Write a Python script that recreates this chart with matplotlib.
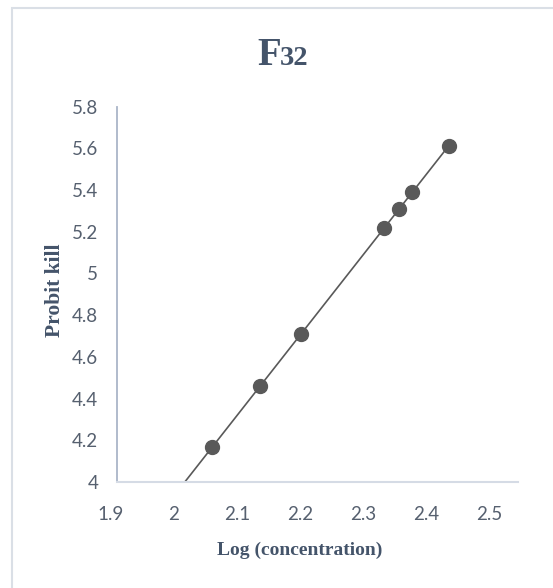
import numpy as np
import matplotlib
matplotlib.use("Agg")
import matplotlib.pyplot as plt
import matplotlib.transforms as mtransforms
from matplotlib.patches import Rectangle

# data
log_conc = [2.042, 2.114, 2.176, 2.300, 2.322, 2.341, 2.397]
probit_kill = [4.166, 4.460, 4.710, 5.220, 5.308, 5.391, 5.612]
x_ticks = [1.9, 2.0, 2.1, 2.2, 2.3, 2.4, 2.5]
x_tick_labels = ["1.9", "2", "2.1", "2.2", "2.3", "2.4", "2.5"]
y_ticks = [4.0, 4.2, 4.4, 4.6, 4.8, 5.0, 5.2, 5.4, 5.6, 5.8]
y_tick_labels = ["4", "4.2", "4.4", "4.6", "4.8", "5", "5.2", "5.4", "5.6", "5.8"]

W, H = 553, 588
fig = plt.figure(figsize=(W / 100, H / 100), dpi=100)
ax = fig.add_axes([117 / W, 1 - 482 / H, (518 - 117) / W, (482 - 106.7) / H])

# linear trend line, forecast back to x = 2.0
slope, icpt = np.polyfit(log_conc, probit_kill, 1)
xs = np.array([2.0, max(log_conc)])
ax.plot(xs, slope * xs + icpt, color="#595959", lw=1.2, zorder=2)
ax.plot(log_conc, probit_kill, "o", color="#595959", ms=10, zorder=3)

ax.set_xlim(1.9, 2.5)
ax.set_ylim(4.0, 5.8)
ax.set_xticks(x_ticks)
ax.set_xticklabels(x_tick_labels)
ax.set_yticks(y_ticks)
ax.set_yticklabels(y_tick_labels)

tick_col = "#56606f"
ax.tick_params(axis="both", length=0, labelsize=13.5, labelcolor=tick_col)
ax.tick_params(axis="x", pad=17)
ax.tick_params(axis="y", pad=13.5)
for lab in ax.get_xticklabels() + ax.get_yticklabels():
    lab.set_fontfamily("Lato")

# the labels in the picture sit a bit left of the real tick spots
for v, lab in zip(x_ticks, ax.get_xticklabels()):
    dx = -(6 + (v - 1.9) / 0.6 * 23) / 100
    lab.set_transform(lab.get_transform() + mtransforms.ScaledTranslation(dx, 0, fig.dpi_scale_trans))

for s in ["top", "right"]:
    ax.spines[s].set_visible(False)
ax.spines["left"].set_color("#aab5c8")
ax.spines["bottom"].set_color("#d5dbe5")
ax.spines["left"].set_linewidth(1.3)
ax.spines["bottom"].set_linewidth(1.5)

label_col = "#44546a"
serif = "Liberation Serif"
fig.text(281 / W, 1 - 65 / H, "F", ha="right", va="baseline", fontsize=28,
         fontweight="bold", family=serif, color=label_col)
fig.text(280 / W, 1 - 65 / H, "32", ha="left", va="baseline", fontsize=20.5,
         fontweight="bold", family=serif, color=label_col)
fig.text(300 / W, 1 - 550 / H, "Log (concentration)", ha="center", va="center",
         fontsize=14, fontweight="bold", family=serif, color=label_col)
fig.text(55 / W, 1 - 290 / H, "Probit kill", ha="center", va="center", rotation=90,
         fontsize=15.5, fontweight="bold", family=serif, color=label_col)

# outer chart border
fig.patches.append(Rectangle((12 / W, -0.05), 1.0, 1 - 8 / H + 0.05, transform=fig.transFigure,
                             fill=False, edgecolor="#dadfe6", lw=1.5))

fig.savefig("out.png", dpi=100)
